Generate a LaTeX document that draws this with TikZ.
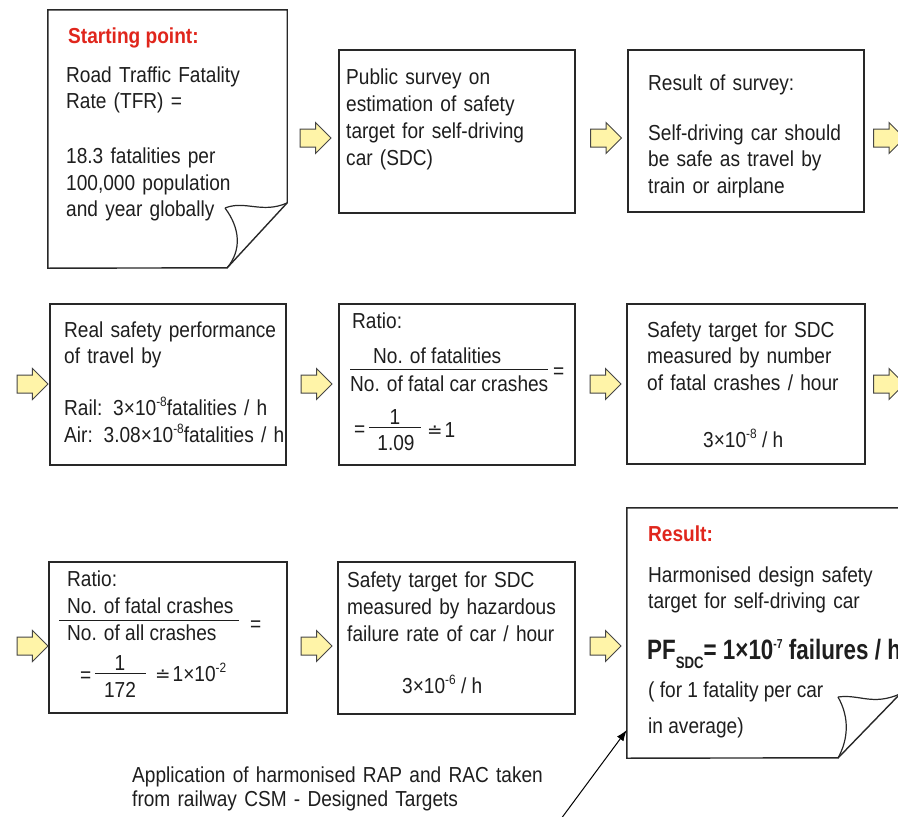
\documentclass[tikz,border=0pt]{standalone}
\usepackage{fontspec}
\setmainfont{Liberation Sans}[FakeStretch=0.88]
\newfontfamily\dotfont{DejaVu Sans}
\newfontfamily\pffont{Liberation Sans}[FakeStretch=0.8]
\usetikzlibrary{arrows.meta,shapes.arrows}
\definecolor{boxline}{RGB}{40,40,40}
\definecolor{inkgray}{RGB}{30,30,30}
\definecolor{headred}{RGB}{224,38,28}
\definecolor{arrowfill}{RGB}{255,244,168}
\definecolor{arrowline}{RGB}{70,70,70}
\newcommand\spow[1]{\raisebox{9pt}{\fontsize{13.5}{13.5}\selectfont#1}}
\newcommand\aeq{{\dotfont\fontsize{18.5}{18.5}\selectfont ≐}\kern2pt}

\begin{document}
\begin{tikzpicture}[x=1pt,y=-1pt,
  panel/.style={draw=boxline,line width=1.4pt,fill=white,inner sep=0pt},
  sheet/.style={inner sep=0pt},
  txt/.style={anchor=base west,inner sep=0pt,text=inkgray,font=\fontsize{21.7}{26.5}\selectfont},
  para/.style={txt,text width=300pt,align=left},
  head/.style={txt,text=headred,font=\bfseries\fontsize{21.7}{26.5}\selectfont},
  cnum/.style={txt,anchor=base},
  barrow/.style={single arrow,draw=arrowline,fill=arrowfill,line width=1pt,minimum height=31pt,inner xsep=0pt,inner ysep=8.5pt,single arrow head extend=6.5pt},
  fracbar/.style={draw=inkgray,line width=1pt},
  link/.style={-{Latex[length=11pt,width=8pt]},line width=1pt,black}]
  \useasboundingbox (0,0) rectangle (898,817);
  \clip (0,0) rectangle (898,817);
  \fill[white] (0,0) rectangle (898,817);
  % Plain boxes
  \foreach \n/\l/\t/\r/\b in {survey/339/50/575/213,surveyres/628/50/864/212,
      realperf/50/304/286/465,ratioa/339/304/575/465,targetcr/627/304/865/464,
      ratiob/49/562/287/713,targethz/338/562/575/714}{
    \node[panel,minimum width={\r-\l},minimum height={\b-\t}] (\n) at ({(\l+\r)/2},{(\t+\b)/2}) {};
  }
  % Sheets with folded corner
  \node[sheet,minimum width=239,minimum height=258] (start) at (167.5,139) {};
  \draw[panel] (start.north west) -- (start.north east) -- ++(0,193) -- ++(-60,65) -- (start.south west) -- cycle;
  \draw[boxline,line width=1.2pt] (225,208) .. controls (245,200) and (262,214) .. (287,203);
  \draw[boxline,line width=1.2pt] (225,208) .. controls (240,228) and (242,250) .. (227,268);
  \node[sheet,minimum width=273,minimum height=250] (result) at (763.5,633) {};
  \draw[panel] (result.north west) -- (result.north east) -- ++(0,186) -- ++(-62,64) -- (result.south west) -- cycle;
  \draw[boxline,line width=1.2pt] (838,697) .. controls (860,694) and (872,706) .. (900,694);
  \draw[boxline,line width=1.2pt] (838,697) .. controls (850,718) and (848,740) .. (838,758);
  % Block arrows
  \foreach \n/\x/\y in {ar1/311/138,ar2/601.5/138,ar3/884.5/138,ar4/28/384,ar5/312/384,
      ar6/601/384,ar7/884.5/384,ar8/28/646,ar9/312/646,ar10/601/646}{
    \node[barrow] (\n) at (\x,\y) {};
  }
  % Row 1
  \node[head] (starthd) at (68,43) {Starting point:};
  \node[para] (starttx) at (66,82) {Road Traffic Fatality\\Rate (TFR) =\\[28.5pt]18.3 fatalities per\\100,000 population\\and year globally};
  \node[para,font=\fontsize{21.7}{27}\selectfont] (surveytx) at (346,84) {Public survey on\\estimation of safety\\target for self-driving\\car (SDC)};
  \node[para] (surveyrestx) at (648,90) {Result of survey:\\[23.5pt]Self-driving car should\\be safe as travel by\\train or airplane};
  % Row 2
  \node[para] (realperftx) at (64,337) {Real safety performance\\of travel by\\[25.5pt]Rail: 3×10\spow{-8}fatalities / h\\Air: 3.08×10\spow{-8}fatalities / h};
  \node[txt] (ratioahd) at (352,328) {Ratio:};
  \node[txt] (ratioanum) at (373,363) {No. of fatalities};
  \node[txt] (ratioaden) at (350,391) {No. of fatal car crashes};
  \draw[fracbar] (350,369) -- (548,369);
  \node[txt] (ratioaeq) at (553,378) {=};
  \node[txt] (ratioaeqb) at (354,436) {=};
  \node[cnum] (ratioaone) at (395,424) {1};
  \draw[fracbar] (369,427) -- (421,427);
  \node[cnum] (ratioaval) at (396,450) {1.09};
  \node[txt] (ratioares) at (427,437) {\aeq 1};
  \node[para] (targetcrtx) at (647,337) {Safety target for SDC\\measured by number\\of fatal crashes / hour};
  \node[txt] (targetcrval) at (703,447) {3×10\spow{-8} / h};
  % Row 3
  \node[txt] (ratiobhd) at (67,586) {Ratio:};
  \node[txt] (ratiobnum) at (67,613) {No. of fatal crashes};
  \draw[fracbar] (59,620) -- (239,620);
  \node[txt] (ratiobden) at (67,640) {No. of all crashes};
  \node[txt] (ratiobeq) at (250,631) {=};
  \node[txt] (ratiobeqb) at (80,682) {=};
  \node[cnum] (ratiobone) at (120,670) {1};
  \draw[fracbar] (95,673) -- (146,673);
  \node[cnum] (ratiobval) at (120,697) {172};
  \node[txt] (ratiobres) at (155,681) {\aeq 1×10\spow{-2}};
  \node[para,font=\fontsize{21.7}{27}\selectfont] (targethztx) at (347,587) {Safety target for SDC\\measured by hazardous\\failure rate of car / hour};
  \node[txt] (targethzval) at (402,693) {3×10\spow{-6} / h};
  % Result sheet
  \node[head] (resulthd) at (648,541) {Result:};
  \node[para] (resulttx) at (648,582) {Harmonised design safety\\target for self-driving car};
  \node[txt,font=\pffont\bfseries\fontsize{28}{30}\selectfont] (pfsdc) at (647,659)
    {PF\raisebox{-9pt}{\fontsize{16.5}{16.5}\selectfont SDC}= 1×10\raisebox{11pt}{\fontsize{13}{13}\selectfont -7} failures / h};
  \node[txt] (resultnote) at (648,697) {( for 1 fatality per car};
  \node[txt] (resultnoteb) at (648,733) {in average)};
  % Note with pointer
  \node[para,text width=500pt,font=\fontsize{21.7}{24.5}\selectfont] (csmnote) at (132,782) {Application of harmonised RAP and RAC taken\\from railway CSM - Designed Targets};
  \coordinate (tail) at (555,827);
  \draw[link] (tail) -- ([yshift=-97pt]result.west);
\end{tikzpicture}
\end{document}
